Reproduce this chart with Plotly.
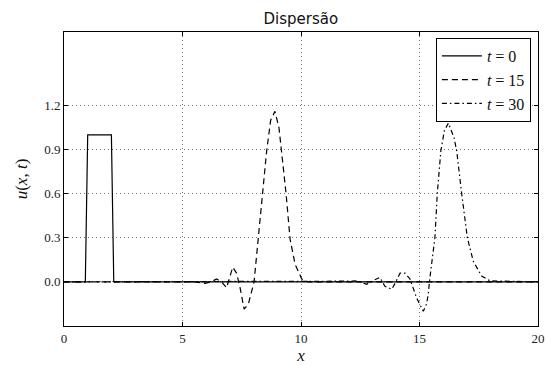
import plotly.graph_objects as go

x0 = [0, 0.9, 1.0, 2.0, 2.1, 20]
y0 = [0, 0, 1, 1, 0, 0]

x15 = [0, 5.5, 5.95, 6.2, 6.44, 6.65, 6.86, 7.0, 7.12, 7.28, 7.43, 7.6, 7.78, 8.02, 8.2, 8.38, 8.55,
       8.72, 8.9, 9.07, 9.18, 9.37, 9.54, 9.75, 10.03, 10.3, 20]
y15 = [0, 0, -0.01, 0.0, 0.02, 0.0, -0.04, 0.04, 0.10, 0.06, -0.04, -0.185, -0.15, 0.0, 0.29, 0.6, 0.89,
       1.10, 1.16, 1.05, 0.89, 0.6, 0.29, 0.12, 0.02, 0, 0]

x30 = [0, 11.5, 12.0, 12.4, 12.77, 13.05, 13.33, 13.54, 13.83, 14.0, 14.18, 14.39, 14.6, 14.88, 15.16,
       15.3, 15.37, 15.44, 15.65, 15.75, 15.9, 16.05, 16.22, 16.46, 16.57, 16.78, 17.02, 17.27, 17.62, 17.97, 20]
y30 = [0, 0, 0.005, 0.007, -0.016, 0.01, 0.03, -0.03, -0.05, 0.0, 0.06, 0.06, 0.02, -0.11, -0.2,
       -0.15, -0.08, 0.03, 0.3, 0.6, 0.89, 1.03, 1.08, 0.98, 0.89, 0.6, 0.3, 0.14, 0.04, 0.007, 0]

xticks = [0, 5, 10, 15, 20]
yticks = [0.0, 0.3, 0.6, 0.9, 1.2]
ytick_labels = ["0.0", "0.3", "0.6", "0.9", "1.2"]

serif = "Liberation Serif, DejaVu Serif, serif"

fig = go.Figure()
fig.add_trace(go.Scatter(x=x0, y=y0, mode="lines", name="<i>t</i> = 0",
                         line=dict(color="black", width=1.2, dash="solid")))
fig.add_trace(go.Scatter(x=x15, y=y15, mode="lines", name="<i>t</i> = 15",
                         line=dict(color="black", width=1.2, dash="6px,4px")))
fig.add_trace(go.Scatter(x=x30, y=y30, mode="lines", name="<i>t</i> = 30",
                         line=dict(color="black", width=1.2, dash="5px,3px,1.5px,3px")))

axis_common = dict(showline=True, linecolor="black", linewidth=1, mirror="ticks",
                   ticks="inside", ticklen=4, tickcolor="black", automargin=False,
                   showgrid=True, gridcolor="#777", griddash="1px,3px", gridwidth=1,
                   zeroline=False, tickfont=dict(family=serif, size=13, color="#222"))

fig.update_layout(
    width=547, height=365,
    margin=dict(l=64, r=9, t=32, b=39),
    paper_bgcolor="white", plot_bgcolor="white",
    title=dict(text="Dispersão", x=0.55, xanchor="center", y=0.95, yanchor="middle",
               font=dict(family="DejaVu Sans", size=15, color="#111")),
    xaxis=dict(range=[0, 20], tickvals=xticks, **axis_common,
               title=dict(text="<i>x</i>", font=dict(family=serif, size=17, color="#111"), standoff=8)),
    yaxis=dict(range=[-0.3, 1.7], tickvals=yticks, ticktext=ytick_labels, **axis_common,
               title=dict(text="<i>u</i>(<i>x</i>, <i>t</i>)", font=dict(family=serif, size=17, color="#111"),
                          standoff=12)),
    legend=dict(x=0.985, y=0.98, xanchor="right", yanchor="top", bgcolor="white",
                bordercolor="black", borderwidth=1,
                font=dict(family=serif, size=16, color="#111"),
                itemwidth=40, tracegroupgap=2),
    showlegend=True,
)

fig.write_html("out.html")
